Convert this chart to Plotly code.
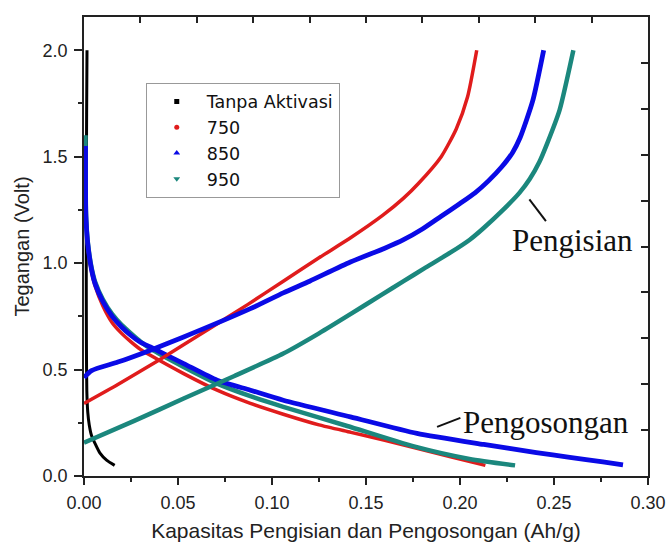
import plotly.graph_objects as go

# ---------------- data ----------------
series_names = ["Tanpa Aktivasi", "750", "850", "950"]

# Tanpa Aktivasi
black_x = [0.0016, 0.0014, 0.0012, 0.0012, 0.0013, 0.0015, 0.0020, 0.0028, 0.0040, 0.0057, 0.0084, 0.0120, 0.0163]
black_y = [2.00, 1.70, 1.30, 0.90, 0.60, 0.40, 0.30, 0.24, 0.19, 0.156, 0.109, 0.075, 0.050]

# 750 charge (Pengisian)
red_chg_x = [0.000, 0.018, 0.040, 0.069, 0.087, 0.106, 0.125, 0.142, 0.159, 0.170, 0.178, 0.190, 0.198, 0.204, 0.2089]
red_chg_y = [0.341, 0.430, 0.545, 0.705, 0.805, 0.915, 1.025, 1.120, 1.225, 1.305, 1.375, 1.500, 1.630, 1.780, 2.000]
# 750 discharge (Pengosongan)
red_dis_x = [0.0008, 0.0010, 0.0020, 0.0040, 0.0060, 0.0100, 0.0150, 0.0200, 0.0250, 0.0300, 0.0353, 0.053, 0.0708, 0.0885, 0.106, 0.125, 0.142, 0.160, 0.177, 0.195, 0.2135]
red_dis_y = [1.55, 1.25, 1.08, 0.96, 0.89, 0.80, 0.72, 0.67, 0.63, 0.595, 0.567, 0.481, 0.403, 0.341, 0.290, 0.240, 0.205, 0.168, 0.130, 0.090, 0.050]

# 850 charge
blue_chg_x = [0.000, 0.004, 0.018, 0.035, 0.053, 0.0885, 0.106, 0.120, 0.1417, 0.160, 0.170, 0.180, 0.190, 0.200, 0.208, 0.215, 0.222, 0.228, 0.232, 0.2387, 0.2445]
blue_chg_y = [0.462, 0.495, 0.535, 0.590, 0.653, 0.786, 0.860, 0.915, 1.005, 1.070, 1.110, 1.160, 1.220, 1.280, 1.330, 1.385, 1.450, 1.520, 1.590, 1.763, 2.000]
# 850 discharge
blue_dis_x = [0.0008, 0.0010, 0.0020, 0.0040, 0.0060, 0.0100, 0.0150, 0.0200, 0.0250, 0.0300, 0.0353, 0.053, 0.0708, 0.0885, 0.106, 0.1417, 0.1771, 0.2126, 0.2406, 0.2584, 0.276, 0.2867]
blue_dis_y = [1.55, 1.22, 1.09, 0.97, 0.90, 0.82, 0.75, 0.70, 0.66, 0.628, 0.606, 0.528, 0.450, 0.403, 0.356, 0.278, 0.200, 0.148, 0.110, 0.088, 0.066, 0.052]

# 950 charge
teal_chg_x = [0.000, 0.027, 0.053, 0.080, 0.106, 0.125, 0.1417, 0.158, 0.170, 0.181, 0.195, 0.2052, 0.2126, 0.2229, 0.2316, 0.2371, 0.2422, 0.2465, 0.253, 0.2603]
teal_chg_y = [0.156, 0.260, 0.364, 0.470, 0.575, 0.670, 0.760, 0.850, 0.915, 0.975, 1.050, 1.110, 1.165, 1.250, 1.330, 1.395, 1.475, 1.565, 1.720, 2.000]
# 950 discharge
teal_dis_x = [0.0008, 0.0010, 0.0020, 0.0040, 0.0060, 0.0100, 0.0150, 0.0200, 0.0250, 0.0300, 0.0353, 0.053, 0.0708, 0.0885, 0.106, 0.140, 0.175, 0.205, 0.2293]
teal_dis_y = [1.60, 1.25, 1.10, 0.98, 0.91, 0.83, 0.76, 0.71, 0.67, 0.632, 0.598, 0.512, 0.434, 0.375, 0.325, 0.235, 0.140, 0.080, 0.050]

x_ticks = [0.00, 0.05, 0.10, 0.15, 0.20, 0.25, 0.30]
y_ticks = [0.0, 0.5, 1.0, 1.5, 2.0]

# ---------------- styling ----------------
BLACK = "#000000"
RED = "#e01c1c"
BLUE = "#0a0ae6"
TEAL = "#1b877d"
SANS = "Liberation Sans, Arial, sans-serif"
SERIF = "Liberation Serif, Times New Roman, serif"
XMAX = 0.30
YMAX = 2.156

fig = go.Figure()

def curve(x, y, color, width):
    fig.add_trace(go.Scatter(x=x, y=y, mode="lines",
                             line=dict(color=color, width=width, shape="spline", smoothing=0.6),
                             showlegend=False, hoverinfo="skip"))

curve(black_x, black_y, BLACK, 3)
curve(red_dis_x, red_dis_y, RED, 3.5)
curve(teal_dis_x, teal_dis_y, TEAL, 4.5)
curve(blue_dis_x, blue_dis_y, BLUE, 4.8)
curve(red_chg_x, red_chg_y, RED, 3.5)
curve(blue_chg_x, blue_chg_y, BLUE, 4.8)
curve(teal_chg_x, teal_chg_y, TEAL, 4.5)

# legend-only marker entries
legend_styles = [(BLACK, "square", 5), (RED, "circle", 5), (BLUE, "triangle-up", 6), (TEAL, "triangle-down", 6)]
for name, (col, sym, sz) in zip(series_names, legend_styles):
    fig.add_trace(go.Scatter(x=[None], y=[None], mode="markers", name=name,
                             marker=dict(color=col, symbol=sym, size=sz)))

# dummy trace to create the top/right mirror axes
fig.add_trace(go.Scatter(x=[None], y=[None], xaxis="x2", yaxis="y2",
                         showlegend=False, hoverinfo="skip"))

axis_line = dict(showline=True, linecolor="#222", linewidth=1.5, showgrid=False,
                 zeroline=False, automargin=False)

fig.update_layout(
    width=666, height=542,
    margin=dict(l=84, r=18, t=17, b=66),
    paper_bgcolor="white", plot_bgcolor="white",
    font=dict(family=SANS, color="#222"),
    xaxis=dict(range=[0, XMAX], tickvals=x_ticks, tickformat=".2f",
               ticks="outside", ticklen=7, tickwidth=1.5, tickcolor="#222",
               minor=dict(dtick=0.025, tick0=0, ticks="outside", ticklen=4, tickwidth=1.5, tickcolor="#222"),
               tickfont=dict(size=18), ticklabelstandoff=3,
               title=dict(text="Kapasitas Pengisian dan Pengosongan (Ah/g)", font=dict(size=21), standoff=12),
               **axis_line),
    yaxis=dict(range=[0, YMAX], tickvals=y_ticks, tickformat=".1f",
               ticks="outside", ticklen=8, tickwidth=1.5, tickcolor="#222",
               minor=dict(dtick=0.25, tick0=0, ticks="outside", ticklen=4, tickwidth=1.5, tickcolor="#222"),
               tickfont=dict(size=18), ticklabelstandoff=3,
               title=dict(text="Tegangan (Volt)", font=dict(size=20), standoff=8),
               **axis_line),
    xaxis2=dict(overlaying="x", side="top", anchor="y", range=[0, XMAX],
                tick0=0, dtick=XMAX / 10, ticks="inside", ticklen=6, tickwidth=1.5, tickcolor="#222",
                showticklabels=False, **axis_line),
    yaxis2=dict(overlaying="y", side="right", anchor="x", range=[0, YMAX],
                tick0=0, dtick=YMAX / 10, ticks="inside", ticklen=7, tickwidth=1.5, tickcolor="#222",
                showticklabels=False, **axis_line),
    legend=dict(x=0.1095, y=0.857, xanchor="left", yanchor="top",
                bordercolor="#999", borderwidth=1, bgcolor="white",
                font=dict(size=17.5, family="DejaVu Sans, sans-serif", color="#111"),
                itemwidth=50, tracegroupgap=0),
    showlegend=True,
)

fig.add_annotation(x=0.2264, y=1.106, xref="x", yref="y", text="Pengisian", showarrow=False,
                   xanchor="left", yanchor="middle", font=dict(family=SERIF, size=31, color="#111"))
fig.add_annotation(x=0.2005, y=0.253, xref="x", yref="y", text="Pengosongan", showarrow=False,
                   xanchor="left", yanchor="middle", font=dict(family=SERIF, size=31, color="#111"))
fig.add_shape(type="line", xref="x", yref="y", x0=0.2369, y0=1.299, x1=0.2457, y1=1.197,
              line=dict(color="#111", width=2))
fig.add_shape(type="line", xref="x", yref="y", x0=0.1878, y0=0.231, x1=0.2002, y1=0.273,
              line=dict(color="#111", width=2))

fig.write_html("out.html", config={"displayModeBar": False},
               post_script="document.body.style.margin='0';document.body.style.overflow='hidden';")
